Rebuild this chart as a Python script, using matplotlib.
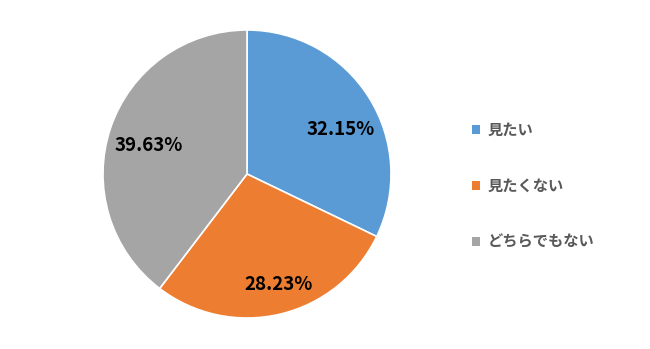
import matplotlib.pyplot as plt
from matplotlib.patches import Patch

plt.rcParams['font.family'] = ['Noto Sans CJK JP', 'DejaVu Sans']

# =============================
# DATA
# =============================
labels = ["見たい", "見たくない", "どちらでもない"]
values = [32.15, 28.23, 39.63]
colors = ["#5B9BD5", "#ED7D31", "#A5A5A5"]

# =============================
# PIE
# =============================
fig = plt.figure(figsize=(6.5, 3.49), dpi=100)
ax = fig.add_axes([103 / 650, 31 / 349, 288 / 650, 288 / 349])

wedges, texts, autotexts = ax.pie(
    values,
    colors=colors,
    startangle=90,
    counterclock=False,
    autopct=lambda p: f"{p:.2f}%",
    pctdistance=0.72,
    wedgeprops=dict(edgecolor="white", linewidth=1.2),
    textprops=dict(fontsize=13.5, fontweight="bold", color="black"),
)
ax.set_aspect("equal")
ax.set_xlim(-1, 1)
ax.set_ylim(-1, 1)

# nudge labels toward Excel's "best fit" spots
nudges = [(0.04, -0.075), (0.055, -0.065), (0.0, -0.03)]
for t, (dx, dy) in zip(autotexts, nudges):
    x, y = t.get_position()
    t.set_position((x + dx, y + dy))

# =============================
# LEGEND
# =============================
handles = [Patch(facecolor=c, edgecolor="none") for c in colors]
leg = fig.legend(
    handles, labels,
    loc="center left",
    bbox_to_anchor=(458 / 650, 1 - 186 / 349),
    frameon=False,
    handlelength=0.55,
    handleheight=0.55,
    handletextpad=0.5,
    labelspacing=2.6,
    prop=dict(size=11, weight="bold"),
)
for t in leg.get_texts():
    t.set_color("#595959")

fig.savefig("out.png", dpi=100)
